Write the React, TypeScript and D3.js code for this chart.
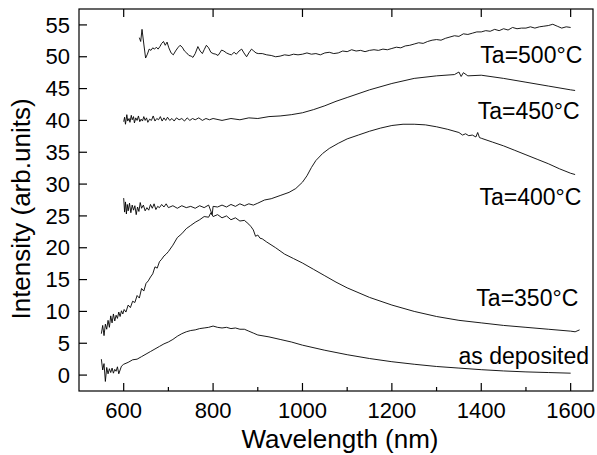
import React from "react";
import * as d3 from "d3";

type Pt = [number, number];

const asDeposited: Pt[] = [
  [550,2.5],[553,0.8],[556,1.8],[559,-1.0],[562,1.2],[565,0.2],[568,1.0],[571,0.4],[574,1.1],[577,0.3],[580,0.9],[583,0.6],[586,1.3],[589,0.2],[592,0.8],[595,1.4],[600,1.7],[610,2.0],[620,2.4],[630,2.5],[640,2.9],[650,3.3],[660,3.7],[670,4.1],[680,4.5],[690,4.9],[700,5.2],[710,5.6],[720,6.1],[730,6.5],[740,6.8],[750,7.0],[760,7.1],[770,7.3],[780,7.4],[790,7.5],[800,7.7],[810,7.5],[820,7.4],[830,7.5],[840,7.3],[850,7.4],[860,7.2],[870,7.2],[880,6.9],[890,6.6],[900,6.3],[925,6.0],[950,5.6],[975,5.2],[1000,4.7],[1050,3.9],[1100,3.2],[1150,2.6],[1200,2.1],[1250,1.7],[1300,1.35],[1350,1.1],[1400,0.85],[1450,0.65],[1500,0.5],[1550,0.4],[1600,0.3]
];

const ta350: Pt[] = [
  [550,6.5],[553,7.8],[556,6.2],[559,8.0],[562,7.2],[565,8.6],[568,7.5],[571,9.3],[574,8.2],[577,9.6],[580,8.5],[583,9.4],[586,8.9],[589,9.9],[592,9.2],[595,10.1],[598,9.6],[601,10.3],[605,9.9],[610,11.0],[615,10.6],[620,11.6],[625,11.4],[630,12.5],[635,12.1],[640,13.6],[645,13.2],[650,14.4],[655,14.8],[660,15.4],[665,15.9],[670,17.0],[675,16.8],[680,17.8],[685,18.2],[690,18.7],[695,19.0],[700,19.4],[710,20.4],[720,21.6],[730,22.2],[740,23.0],[750,23.5],[760,24.0],[770,24.4],[780,24.9],[790,24.8],[795,25.5],[800,24.9],[810,25.2],[820,24.7],[830,25.0],[840,24.4],[850,24.7],[860,24.2],[870,24.3],[880,23.7],[885,23.3],[890,22.8],[895,21.8],[900,22.0],[905,21.5],[910,21.4],[920,20.9],[940,20.0],[960,19.0],[980,18.3],[1000,17.6],[1025,16.6],[1050,15.6],[1075,14.6],[1100,13.7],[1150,12.2],[1200,11.0],[1250,10.0],[1300,9.2],[1350,8.6],[1400,8.2],[1450,7.8],[1500,7.5],[1550,7.2],[1600,6.9],[1610,6.8],[1620,7.1]
];

const ta400: Pt[] = [
  [600,27.8],[602,25.6],[604,27.2],[606,25.3],[608,26.8],[610,25.8],[613,27.0],[616,25.5],[619,26.7],[622,25.9],[625,26.6],[628,25.2],[631,26.4],[634,25.7],[637,27.1],[640,26.2],[644,26.7],[648,25.8],[652,26.3],[656,25.9],[660,26.8],[664,26.2],[668,26.9],[672,26.0],[676,26.5],[680,26.3],[685,26.8],[690,26.4],[695,26.9],[700,26.3],[710,26.6],[720,26.2],[730,26.6],[740,26.3],[750,26.5],[760,26.2],[770,26.6],[780,26.3],[790,26.7],[798,25.2],[800,26.5],[810,26.4],[820,26.7],[830,26.4],[840,26.8],[850,26.5],[860,26.9],[870,26.6],[880,26.9],[890,26.7],[900,27.0],[915,27.5],[930,27.7],[950,28.2],[970,28.7],[985,29.3],[1000,30.3],[1010,31.3],[1020,32.6],[1030,33.7],[1045,34.8],[1060,35.6],[1080,36.4],[1100,37.1],[1125,37.7],[1150,38.3],[1175,38.8],[1200,39.2],[1225,39.4],[1250,39.4],[1275,39.3],[1300,39.0],[1325,38.6],[1350,38.1],[1358,37.7],[1365,37.9],[1372,37.6],[1380,37.7],[1388,37.4],[1392,38.1],[1396,37.3],[1400,37.2],[1425,36.6],[1450,36.0],[1475,35.3],[1500,34.6],[1525,33.9],[1550,33.2],[1575,32.4],[1600,31.7],[1610,31.5]
];

const ta450: Pt[] = [
  [600,39.8],[602,40.5],[604,39.4],[607,40.9],[609,39.9],[612,40.3],[614,39.7],[617,40.8],[619,40.1],[622,40.6],[624,39.6],[627,40.4],[630,40.0],[633,40.7],[636,39.8],[639,40.2],[642,39.9],[645,40.6],[648,40.0],[651,40.4],[654,39.7],[658,40.2],[662,40.0],[666,40.7],[670,39.9],[674,40.3],[678,40.1],[682,40.6],[686,39.9],[690,40.4],[694,40.0],[698,40.5],[703,40.0],[708,40.3],[713,39.9],[718,40.4],[724,40.1],[730,40.3],[736,39.9],[742,40.4],[748,40.0],[754,40.3],[760,40.1],[768,40.4],[776,40.0],[784,40.3],[792,40.1],[800,40.3],[820,40.0],[840,40.3],[860,40.1],[880,40.4],[900,40.3],[925,40.6],[950,40.7],[975,40.9],[1000,41.2],[1025,41.7],[1050,42.3],[1075,43.0],[1100,43.6],[1150,44.8],[1200,45.8],[1250,46.6],[1300,47.0],[1340,47.2],[1350,47.6],[1355,46.9],[1360,47.5],[1370,47.0],[1400,47.1],[1450,46.6],[1500,46.0],[1550,45.4],[1600,44.8],[1610,44.7]
];

const ta500: Pt[] = [
  [635,53.0],[638,52.4],[641,54.3],[645,52.0],[649,49.8],[653,50.4],[657,51.2],[661,51.0],[665,51.4],[669,51.2],[673,51.5],[677,51.2],[681,51.6],[685,52.1],[689,52.4],[693,51.8],[697,52.3],[701,51.4],[706,50.6],[711,50.3],[716,50.9],[721,51.4],[726,51.8],[731,51.5],[736,50.9],[741,50.6],[746,50.2],[751,50.1],[755,49.9],[760,50.5],[766,51.6],[771,50.9],[776,50.5],[780,51.1],[785,51.8],[790,51.4],[795,50.7],[800,50.5],[806,50.4],[811,50.2],[815,50.6],[819,51.05],[824,50.9],[830,50.6],[836,50.4],[841,50.3],[847,50.7],[852,50.4],[858,50.9],[864,51.2],[869,50.6],[875,50.0],[880,50.6],[886,51.2],[891,50.9],[896,50.6],[901,50.5],[910,50.5],[920,50.3],[930,50.2],[940,50.0],[950,50.1],[960,50.3],[970,50.2],[980,50.4],[990,50.3],[1000,50.4],[1010,50.6],[1020,50.4],[1030,50.5],[1040,50.3],[1050,50.6],[1060,50.7],[1070,50.5],[1080,50.6],[1090,50.9],[1100,50.8],[1110,51.1],[1120,50.9],[1130,51.0],[1140,50.8],[1150,51.0],[1160,51.1],[1170,51.0],[1180,51.2],[1190,51.1],[1200,51.3],[1210,51.5],[1220,51.4],[1230,51.7],[1240,51.8],[1250,52.0],[1260,52.2],[1270,52.1],[1280,52.4],[1290,52.6],[1300,52.7],[1310,52.6],[1320,52.9],[1330,53.1],[1340,53.3],[1350,53.2],[1360,53.6],[1370,53.5],[1380,53.7],[1390,53.9],[1400,53.9],[1410,54.1],[1420,54.0],[1430,54.3],[1440,54.1],[1450,54.4],[1460,54.2],[1470,54.6],[1480,54.4],[1490,54.5],[1500,54.5],[1510,54.7],[1520,54.5],[1530,54.7],[1540,54.8],[1550,54.9],[1560,55.1],[1570,54.8],[1580,54.5],[1590,54.7],[1600,54.6]
];

const seriesList: Pt[][] = [asDeposited, ta350, ta400, ta450, ta500];

const labelTexts = ["as deposited", "Ta=350°C", "Ta=400°C", "Ta=450°C", "Ta=500°C"];
const labelX = [1641, 1617, 1624, 1620, 1626];
const labelY = [1.8, 10.8, 26.7, 40.2, 49.0];

const xMajorTicks = [600, 800, 1000, 1200, 1400, 1600];
const xMinorTicks = [700, 900, 1100, 1300, 1500];
const yTicks = [0, 5, 10, 15, 20, 25, 30, 35, 40, 45, 50, 55];

const xDomain: [number, number] = [500, 1650];
const yDomain: [number, number] = [-2.5, 57.5];

const xTitle = "Wavelength (nm)";
const yTitle = "Intensity (arb.units)";

export default function App() {
  const W = 597, H = 455;
  const left = 79, right = 593, top = 9, bottom = 391;
  const x = d3.scaleLinear().domain(xDomain).range([left, right]);
  const y = d3.scaleLinear().domain(yDomain).range([bottom, top]);
  const line = d3.line<Pt>().x(d => x(d[0])).y(d => y(d[1]));
  const font = "'Liberation Sans', Arial, sans-serif";
  return (
    <svg width={W} height={H} style={{ position: "absolute", left: 0, top: 0, background: "#fff" }} fontFamily={font}>
      <rect x={0} y={0} width={W} height={H} fill="#fff" />
      {seriesList.map((s, i) => (
        <path key={i} d={line(s) || ""} fill="none" stroke="#000" strokeWidth={0.9} strokeLinejoin="round" />
      ))}
      <rect x={left} y={top} width={right - left} height={bottom - top} fill="none" stroke="#000" strokeWidth={1.2} />
      {xMajorTicks.map(t => (
        <g key={"xm" + t}>
          <line x1={x(t)} x2={x(t)} y1={bottom} y2={bottom - 8} stroke="#000" strokeWidth={1.2} />
          <line x1={x(t)} x2={x(t)} y1={top} y2={top + 8} stroke="#000" strokeWidth={1.2} />
          <text x={x(t)} y={418} textAnchor="middle" fontSize={22}>{t}</text>
        </g>
      ))}
      {xMinorTicks.map(t => (
        <line key={"xn" + t} x1={x(t)} x2={x(t)} y1={bottom} y2={bottom - 4} stroke="#000" strokeWidth={1.2} />
      ))}
      {yTicks.map(t => (
        <g key={"y" + t}>
          <line x1={left} x2={left + 8} y1={y(t)} y2={y(t)} stroke="#000" strokeWidth={1.2} />
          <text x={70} y={y(t)} dy="0.35em" textAnchor="end" fontSize={22}>{t}</text>
        </g>
      ))}
      {labelTexts.map((l, i) => (
        <text key={l} x={x(labelX[i])} y={y(labelY[i])} textAnchor="end" fontSize={23}>{l}</text>
      ))}
      <text x={(left + right) / 2 + 4} y={448} textAnchor="middle" fontSize={26}>{xTitle}</text>
      <text transform={`translate(30,${(top + bottom) / 2 + 9}) rotate(-90)`} textAnchor="middle" fontSize={26}>{yTitle}</text>
    </svg>
  );
}
